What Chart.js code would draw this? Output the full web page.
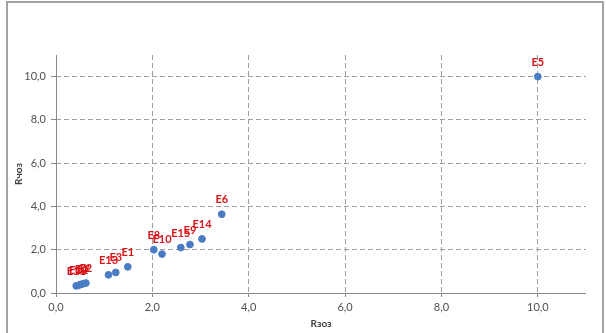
<!DOCTYPE html>
<html><head><meta charset="utf-8">
<script src="https://cdn.jsdelivr.net/npm/chart.js@4/dist/chart.umd.min.js"></script>
<style>
html,body{margin:0;padding:0;background:#fff;}
#wrap{position:absolute;left:0;top:0;width:606px;height:333px;}
#frame{position:absolute;left:6px;top:1px;width:594px;height:330px;border:2px solid #a3a3a3;border-bottom-width:2px;pointer-events:none;}
canvas{position:absolute;left:0;top:0;}
</style></head>
<body>
<div id="wrap"><canvas id="c" width="606" height="333"></canvas><div id="frame"></div></div>
<script>
const labels = ['E1','E2','E3','E4','E5','E6','E7','E8','E9','E10','E11','E12','E13','E14','E15'];
const xValues = [1.49,0.62,1.24,0.52,10.0,3.44,0.57,2.03,2.78,2.20,0.42,0.47,1.09,3.03,2.59];
const yValues = [1.21,0.46,0.95,0.40,10.0,3.64,0.43,2.00,2.24,1.80,0.33,0.36,0.84,2.50,2.10];
const tickValues = [0,2,4,6,8,10];
const xTitle = 'Rзоз';
const yTitle = 'Rчоз';

const fmt = v => v.toFixed(1).replace('.', ',');
const points = xValues.map((x,i)=>({x:x, y:yValues[i]}));

const pointLabels = {
  id:'pointLabels',
  afterDatasetsDraw(chart){
    const ctx = chart.ctx;
    const meta = chart.getDatasetMeta(0);
    ctx.save();
    ctx.font = 'bold 11px Lato, "Liberation Sans", sans-serif';
    ctx.fillStyle = '#d8141a';
    ctx.textAlign = 'center';
    ctx.textBaseline = 'middle';
    meta.data.forEach((el,i)=>{
      ctx.fillText(labels[i], el.x, el.y - 14.5);
    });
    ctx.restore();
  }
};

const axisLines = {
  id:'axisLines',
  beforeDatasetsDraw(chart){
    const ctx = chart.ctx, a = chart.chartArea;
    ctx.save();
    ctx.strokeStyle = '#8a8a8a';
    ctx.lineWidth = 1;
    ctx.setLineDash([]);
    ctx.beginPath();
    ctx.moveTo(a.left+0.5, a.top);
    ctx.lineTo(a.left+0.5, a.bottom+0.5);
    ctx.lineTo(a.right, a.bottom+0.5);
    ctx.stroke();
    ctx.restore();
  }
};

const keepTicks = scale => { scale.ticks = tickValues.map(v=>({value:v})); };

new Chart(document.getElementById('c'), {
  type:'scatter',
  data:{datasets:[{data:points, backgroundColor:'#4a7cc4', borderColor:'#4a7cc4', pointRadius:3.4, pointHoverRadius:3.4}]},
  options:{
    responsive:false, animation:false,
    layout:{padding:{left:13, right:20, top:55, bottom:3}},
    plugins:{legend:{display:false}, tooltip:{enabled:false}},
    scales:{
      x:{
        type:'linear', min:0, max:11,
        afterBuildTicks: keepTicks,
        afterFit(s){ s.height = 37; },
        grid:{color:'#9e9e9e', lineWidth:1, tickLength:4, tickColor:'#8a8a8a', tickBorderDash:[]},
        border:{display:false, dash:[5,3]},
        ticks:{callback:v=>fmt(v), color:'#505050', font:{family:'Lato, "Liberation Sans", sans-serif', size:11}, padding:4, maxRotation:0, autoSkip:false},
        title:{display:true, text:xTitle, color:'#404040', font:{family:'Lato, "Liberation Sans", sans-serif', size:10, weight:'bold'}, padding:{top:0,bottom:0}}
      },
      y:{
        type:'linear', min:0, max:11,
        afterBuildTicks: keepTicks,
        afterFit(s){ s.width = 43; },
        grid:{color:'#9e9e9e', lineWidth:1, tickLength:5, tickColor:'#8a8a8a', tickBorderDash:[]},
        border:{display:false, dash:[5,3]},
        ticks:{callback:v=>fmt(v), color:'#505050', font:{family:'Lato, "Liberation Sans", sans-serif', size:11}, padding:5, autoSkip:false},
        title:{display:true, text:yTitle, color:'#404040', font:{family:'Lato, "Liberation Sans", sans-serif', size:10, weight:'bold'}, padding:{top:0,bottom:2}}
      }
    }
  },
  plugins:[axisLines, pointLabels]
});
</script>
</body></html>
